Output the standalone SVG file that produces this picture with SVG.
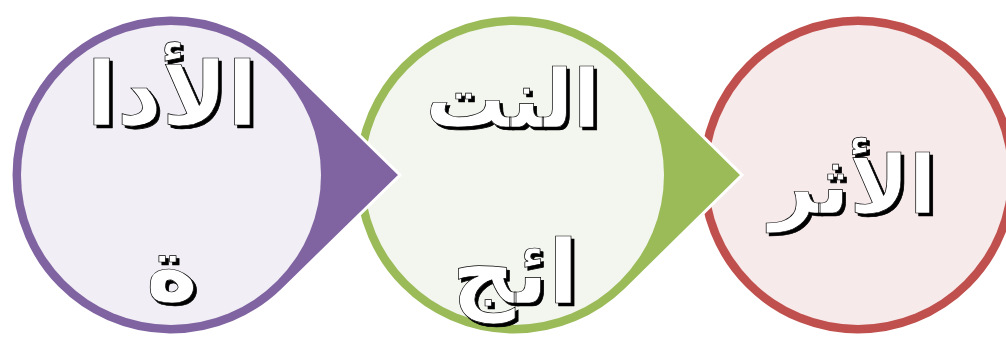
<svg xmlns="http://www.w3.org/2000/svg" width="1006" height="337" viewBox="0 0 1006 337">
  <defs>
    <filter id="shadow" x="-10%" y="-10%" width="130%" height="130%">
      <feOffset in="SourceAlpha" dx="2.5" dy="2.5" result="off"/>
      <feFlood flood-color="#000000" result="blk"/>
      <feComposite in="blk" in2="off" operator="in" result="sh"/>
      <feMerge>
        <feMergeNode in="sh"/>
        <feMergeNode in="SourceGraphic"/>
      </feMerge>
    </filter>
    <style>
      .shape { stroke: #ffffff; stroke-width: 3; stroke-linejoin: miter; }
      .lbl { font-family: "DejaVu Sans", "Noto Sans", sans-serif; font-weight: bold; font-size: 88px; text-anchor: middle; direction: rtl; fill: #ffffff; stroke: #000000; stroke-width: 0.7; filter: url(#shadow); }
    </style>
  </defs>
  <rect width="1006" height="337" fill="#ffffff"/>

  <g id="node-impact">
    <circle cx="858" cy="175" r="160" fill="#c0504d" class="shape"/>
    <circle cx="858" cy="175" r="150" fill="#f7eaea"/>
    <text class="lbl" x="853" y="213" style="font-size:80px">الأثر</text>
  </g>

  <g id="node-results">
    <path class="shape" fill="#9bbb59" d="M 625.8 60.5 L 742 175 L 625.8 289.5 A 160 160 0 1 1 625.8 60.5 Z"/>
    <circle cx="514" cy="175" r="150" fill="#f3f6ee"/>
    <text class="lbl" x="513" y="127" style="font-size:80px">النت</text>
    <text class="lbl" x="515" y="303">ائج</text>
  </g>

  <g id="node-tool">
    <path class="shape" fill="#8064a2" d="M 282.8 60.5 L 400 175 L 282.8 289.5 A 160 160 0 1 1 282.8 60.5 Z"/>
    <circle cx="171" cy="175" r="150" fill="#f1eff5"/>
    <text class="lbl" x="172" y="125">الأدا</text>
    <text class="lbl" x="172" y="300">ة</text>
  </g>

  <g id="connectors"></g>
</svg>
